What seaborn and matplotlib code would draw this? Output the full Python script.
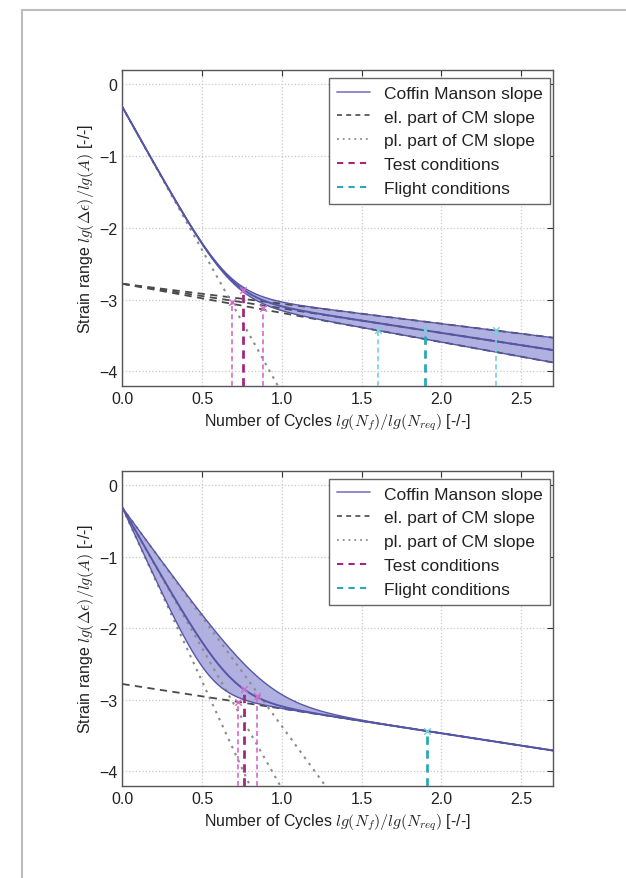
import numpy as np
import pandas as pd
import matplotlib
matplotlib.use("Agg")
import matplotlib.pyplot as plt
from matplotlib.lines import Line2D
import seaborn as sns

# Coffin-Manson parameters in normalised log coordinates
el_intercept = -2.78
pl_intercept = -0.32
top_el_slopes = [-0.278, -0.342, -0.406]   # upper, mean, lower elastic slope
top_pl_slopes = [-3.98]
bot_el_slopes = [-0.344]
bot_pl_slopes = [-3.05, -3.92, -4.85]      # upper, mean, lower plastic slope

# Test / flight lifetimes (x) and their strain levels (y)
top_test_x = [0.687, 0.757, 0.882]
top_test_y = [-3.03, -2.86, -3.12]
top_flight_x = [1.60, 1.90, 2.34]
top_flight_y = [-3.42, -3.42, -3.42]
bot_test_x = [0.727, 0.765, 0.846]
bot_test_y = [-3.03, -2.85, -2.95]
bot_flight_x = [1.91]
bot_flight_y = [-3.43]

x_ticks = [0.0, 0.5, 1.0, 1.5, 2.0, 2.5]
y_ticks = [0, -1, -2, -3, -4]
x_lim = (0.0, 2.7)
y_lim = (-4.2, 0.2)
legend_labels = ["Coffin Manson slope", "el. part of CM slope",
                 "pl. part of CM slope", "Test conditions", "Flight conditions"]
x_label = r"Number of Cycles $lg(N_f)/lg(N_{req})$ [-/-]"
y_label = r"Strain range $lg(\Delta\epsilon)/lg(A)$ [-/-]"

sns.set_style("whitegrid")
plt.rcParams["font.family"] = ["Liberation Sans", "DejaVu Sans"]
plt.rcParams["mathtext.fontset"] = "cm"

CM_LINE = "#5656a6"
CM_FILL = "#a3a3dc"
EL_COL = "#4a4a4a"
PL_COL = "#8c8c8c"
TEST_DARK, TEST_LIGHT = "#a0287e", "#d46ad0"
FLIGHT_DARK, FLIGHT_LIGHT = "#2aa8b4", "#74d2d6"


def total_strain(el, pl):
    return np.log10(10.0 ** el + 10.0 ** pl)


def draw_panel(ax, el_slopes, pl_slopes, test_x, test_y, flight_x, flight_y):
    x = np.linspace(x_lim[0], x_lim[1], 500)
    if len(el_slopes) > 1:
        combos = [(e, pl_slopes[0]) for e in el_slopes]
    else:
        combos = [(el_slopes[0], p) for p in pl_slopes]
    totals = [total_strain(el_intercept + e * x, pl_intercept + p * x) for e, p in combos]

    ax.fill_between(x, totals[0], totals[2], color=CM_FILL, alpha=0.85, lw=0, zorder=1)

    for e in el_slopes:
        df = pd.DataFrame({"x": x, "y": el_intercept + e * x})
        sns.lineplot(data=df, x="x", y="y", ax=ax, color=EL_COL, lw=1.3,
                     linestyle=(0, (4, 3)), estimator=None, zorder=3)
    for p in pl_slopes:
        df = pd.DataFrame({"x": x, "y": pl_intercept + p * x})
        sns.lineplot(data=df, x="x", y="y", ax=ax, color=PL_COL, lw=1.5,
                     linestyle=(0, (1.2, 2.5)), estimator=None, zorder=3)
    for i, t in enumerate(totals):
        df = pd.DataFrame({"x": x, "y": t})
        sns.lineplot(data=df, x="x", y="y", ax=ax, color=CM_LINE,
                     lw=1.4 if i == 1 else 1.0, estimator=None, zorder=4)

    for xs, ys, dark, light in ((test_x, test_y, TEST_DARK, TEST_LIGHT),
                                (flight_x, flight_y, FLIGHT_DARK, FLIGHT_LIGHT)):
        mid = len(xs) // 2
        for i, (xv, yv) in enumerate(zip(xs, ys)):
            main = i == mid
            ax.vlines(xv, y_lim[0], yv, colors=dark if main else light,
                      lw=2.0 if main else 1.2, linestyles=(0, (3, 2)), zorder=5)
        df = pd.DataFrame({"x": xs, "y": ys})
        sns.scatterplot(data=df, x="x", y="y", ax=ax, marker="x", s=22,
                        color=light, linewidth=1.0, zorder=6)

    ax.set_xlim(*x_lim)
    ax.set_ylim(*y_lim)
    ax.set_xticks(x_ticks)
    ax.set_yticks(y_ticks)
    ax.set_xticklabels([f"{v:.1f}" for v in x_ticks])
    ax.set_yticklabels([f"{v}".replace("-", "\u2212") for v in y_ticks])
    ax.tick_params(labelsize=11.5, direction="in", length=4, top=True, right=True,
                   colors="#333333", labelcolor="#222222")
    ax.grid(True, color="#c8c8c8", linestyle=":", linewidth=0.9)
    for s in ax.spines.values():
        s.set_color("#555555")
        s.set_linewidth(1.0)
    ax.set_xlabel(x_label, fontsize=11.5, color="#222222", labelpad=4)
    ax.set_ylabel(y_label, fontsize=11.5, color="#222222", labelpad=2)

    handles = [
        Line2D([], [], color="#8484c8", lw=1.3),
        Line2D([], [], color=EL_COL, lw=1.2, linestyle=(0, (3, 2.5))),
        Line2D([], [], color=PL_COL, lw=1.3, linestyle=(0, (1, 2.2))),
        Line2D([], [], color=TEST_DARK, lw=1.5, linestyle=(0, (3, 2.5))),
        Line2D([], [], color=FLIGHT_DARK, lw=1.5, linestyle=(0, (3, 2.5))),
    ]
    leg = ax.legend(handles, legend_labels, loc="upper right", fontsize=12.5,
                    bbox_to_anchor=(1 - 3 / 432, 1 - 8 / 316),
                    frameon=True, fancybox=False, framealpha=1.0, edgecolor="#666666",
                    handlelength=1.9, handletextpad=0.8, labelspacing=0.5,
                    borderaxespad=0.0, borderpad=0.45)
    leg.get_frame().set_linewidth(1.0)
    for t in leg.get_texts():
        t.set_color("#222222")


fig = plt.figure(figsize=(6.26, 8.79), dpi=100)
ax_top = fig.add_axes([0.1955, 0.560, 0.688, 0.3595])
ax_bot = fig.add_axes([0.1955, 0.105, 0.688, 0.3585])

draw_panel(ax_top, top_el_slopes, top_pl_slopes, top_test_x, top_test_y,
           top_flight_x, top_flight_y)
draw_panel(ax_bot, bot_el_slopes, bot_pl_slopes, bot_test_x, bot_test_y,
           bot_flight_x, bot_flight_y)

# page frame on the left and top
fx, fy = 22 / 626, 1 - 11 / 879
fig.add_artist(Line2D([fx, fx], [0, fy], transform=fig.transFigure, color="#bdbdbd", lw=1.5))
fig.add_artist(Line2D([fx, 1], [fy, fy], transform=fig.transFigure, color="#bdbdbd", lw=1.5))

fig.savefig("out.png", dpi=100, facecolor="white")
